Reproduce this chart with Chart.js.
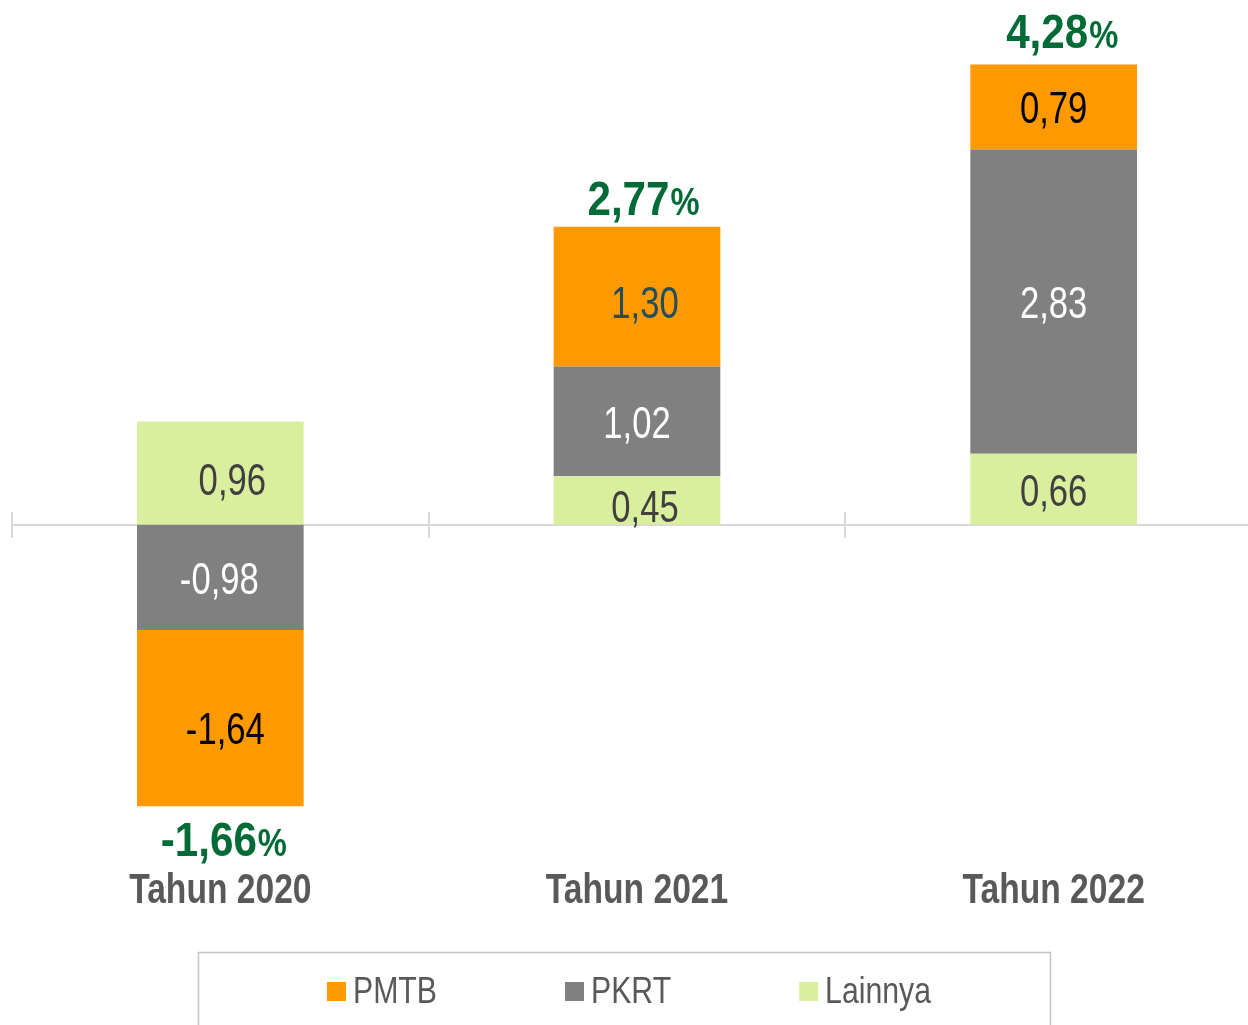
<!DOCTYPE html>
<html>
<head>
<meta charset="utf-8">
<script src="https://cdn.jsdelivr.net/npm/chart.js@4.4.1/dist/chart.umd.min.js"></script>
<style>
  html, body { margin: 0; padding: 0; background: #fff; overflow: hidden; }
  #wrap { width: 1262px; height: 1025px; position: relative; }
</style>
</head>
<body>
<div id="wrap"><canvas id="kontribusi"></canvas></div>
<script>
// categories and series, values in percentage points
const categories = ['Tahun 2020', 'Tahun 2021', 'Tahun 2022'];
const pmtb = [-1.64, 1.30, 0.79];
const pkrt = [-0.98, 1.02, 2.83];
const lainnya = [0.96, 0.45, 0.66];
const totals = [-1.66, 2.77, 4.28];

// colours
const ORANGE = '#FF9900';
const GREY = '#808080';
const LIME = '#D9EF9D';
const GREEN_TEXT = '#006B36';
const AXIS_TEXT = '#595959';
// no Arial Narrow here, so Liberation Sans squeezed horizontally
const SANS = '"Liberation Sans", Arial, sans-serif';

// label text colour per dataset (per point where it differs)
const labelColors = {
  Lainnya: ['#404040', '#404040', '#404040'],
  PKRT: ['#ffffff', '#ffffff', '#ffffff'],
  PMTB: ['#000000', '#1F4E5F', '#000000']
};
// small nudges so the labels sit where the original has them
const nudgeX = { Lainnya: [12, 8, 0], PKRT: [-1, 0, 0], PMTB: [5, 8, 0] };
const nudgeY = { Lainnya: [10, 9, 4], PKRT: [4, 4, 4], PMTB: [13, 9, 4] };
const totalNudgeX = [3, 6, 8];
const totalNudgeY = [-4, 3, -2];

const fmt = v => v.toFixed(2).replace('.', ',');

function narrowText(ctx, text, x, y, sx) {
  ctx.save();
  ctx.translate(x, y);
  ctx.scale(sx, 1);
  ctx.fillText(text, 0, 0);
  ctx.restore();
}

// zero line plus tick marks at the category boundaries
const zeroLine = {
  id: 'zeroLine',
  beforeDatasetsDraw(chart) {
    const { ctx, chartArea, scales: { y } } = chart;
    const y0 = Math.round(y.getPixelForValue(0));
    ctx.save();
    ctx.strokeStyle = '#D9D9D9';
    ctx.lineWidth = 2;
    ctx.beginPath();
    ctx.moveTo(chartArea.left, y0);
    ctx.lineTo(chartArea.right, y0);
    const step = chartArea.width / categories.length;
    for (let i = 0; i < categories.length; i++) {
      const bx = Math.round(chartArea.left + i * step);
      ctx.moveTo(bx, y0 - 13);
      ctx.lineTo(bx, y0 + 13);
    }
    ctx.stroke();
    ctx.restore();
  }
};

// values inside the segments, totals above / below each stack, category names
const stackLabels = {
  id: 'stackLabels',
  afterDatasetsDraw(chart) {
    const { ctx, scales: { x, y } } = chart;
    ctx.save();
    ctx.textAlign = 'center';
    ctx.textBaseline = 'middle';
    ctx.font = '45px ' + SANS;
    chart.data.datasets.forEach((ds, di) => {
      const meta = chart.getDatasetMeta(di);
      meta.data.forEach((bar, i) => {
        const cy = (bar.y + bar.base) / 2;
        ctx.fillStyle = labelColors[ds.label][i];
        narrowText(ctx, fmt(ds.data[i]), bar.x + nudgeX[ds.label][i], cy + nudgeY[ds.label][i], 0.77);
      });
    });

    const meta0 = chart.getDatasetMeta(0);
    const sx = 0.86;
    totals.forEach((t, i) => {
      let pos = 0, neg = 0;
      chart.data.datasets.forEach(ds => {
        const v = ds.data[i];
        if (v >= 0) pos += v; else neg += v;
      });
      const cx = meta0.data[i].x + totalNudgeX[i];
      const base = (t >= 0 ? y.getPixelForValue(pos) - 15 : y.getPixelForValue(neg) + 54) + totalNudgeY[i];
      const num = fmt(t);
      ctx.font = 'bold 49px ' + SANS;
      const wNum = ctx.measureText(num).width * sx;
      ctx.font = 'bold 38px ' + SANS;
      const wPct = ctx.measureText('%').width * sx;
      const left = cx - (wNum + wPct) / 2;
      ctx.textAlign = 'left';
      ctx.textBaseline = 'alphabetic';
      ctx.fillStyle = GREEN_TEXT;
      ctx.font = 'bold 49px ' + SANS;
      narrowText(ctx, num, left, base, sx);
      ctx.font = 'bold 38px ' + SANS;
      narrowText(ctx, '%', left + wNum + 1, base, sx);
    });

    ctx.textAlign = 'center';
    ctx.textBaseline = 'alphabetic';
    ctx.fillStyle = AXIS_TEXT;
    ctx.font = 'bold 42px ' + SANS;
    categories.forEach((c, i) => {
      narrowText(ctx, c, x.getPixelForValue(i), 903, 0.8);
    });
    ctx.restore();
  }
};

// boxed legend under the chart, PMTB first
const boxLegend = {
  id: 'boxLegend',
  afterDraw(chart) {
    const { ctx } = chart;
    ctx.save();
    ctx.strokeStyle = '#C4C4C4';
    ctx.lineWidth = 1.5;
    ctx.strokeRect(198.5, 952.5, 852, 100);
    ctx.font = '36px ' + SANS;
    ctx.textBaseline = 'middle';
    ctx.textAlign = 'left';
    let lx = 327;
    chart.data.datasets.slice().reverse().forEach(ds => {
      ctx.fillStyle = ds.backgroundColor;
      ctx.fillRect(lx, 982, 19, 19);
      ctx.fillStyle = AXIS_TEXT;
      narrowText(ctx, ds.label, lx + 26, 993, 0.84);
      lx += 26 + ctx.measureText(ds.label).width * 0.84 + 128;
    });
    ctx.restore();
  }
};

new Chart(document.getElementById('kontribusi'), {
  type: 'bar',
  data: {
    labels: categories,
    datasets: [
      { label: 'Lainnya', data: lainnya, backgroundColor: LIME },
      { label: 'PKRT', data: pkrt, backgroundColor: GREY },
      { label: 'PMTB', data: pmtb, backgroundColor: ORANGE }
    ]
  },
  options: {
    responsive: true,
    maintainAspectRatio: false,
    animation: false,
    layout: { padding: { left: 12, right: 0, top: 0, bottom: 95 } },
    datasets: { bar: { categoryPercentage: 1, barPercentage: 0.4, borderWidth: 0 } },
    plugins: { legend: { display: false }, tooltip: { enabled: false } },
    scales: {
      x: {
        stacked: true,
        grid: { display: false },
        border: { display: false },
        ticks: { display: false },
        afterFit(scale) { scale.height = 70; }
      },
      y: {
        stacked: true,
        display: false,
        min: -3.12,
        max: 4.88
      }
    }
  },
  plugins: [zeroLine, stackLabels, boxLegend]
});
</script>
</body>
</html>
